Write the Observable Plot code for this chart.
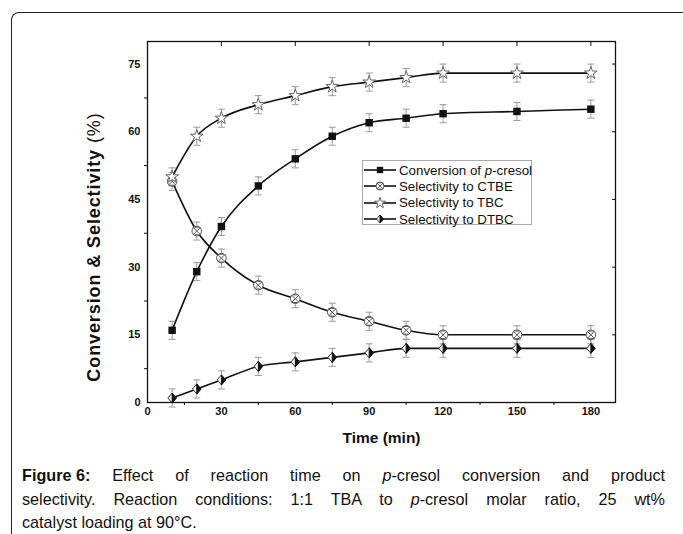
<!DOCTYPE html>
<html><head><meta charset="utf-8">
<script src="https://cdn.jsdelivr.net/npm/d3@7"></script>
<script src="https://cdn.jsdelivr.net/npm/@observablehq/plot@0.6"></script>
<style>
html,body{margin:0;padding:0;background:#fff;width:683px;height:534px;overflow:hidden;font-family:"Liberation Sans",Arial,sans-serif;}
#wrap{position:relative;width:683px;height:534px;}
#border{position:absolute;left:11px;top:12px;width:720px;height:600px;border-top:1.5px solid #222;border-left:1.5px solid #222;border-top-left-radius:8px;}
#chart{position:absolute;left:0;top:0;}
#ylab{position:absolute;left:94px;top:247px;transform:translate(-50%,-50%) rotate(-90deg);white-space:nowrap;font-size:18px;letter-spacing:0.9px;font-weight:bold;color:#111;}
#ylab span{font-weight:normal;}
#legend{position:absolute;left:362px;top:160px;width:170px;height:65px;border:1px solid #aaa;background:#fff;box-sizing:border-box;padding-top:1px;}
.lrow{display:flex;align-items:center;height:16.3px;font-size:13.3px;color:#111;white-space:nowrap;}
.lrow svg{margin-right:2px;flex:none;}
#caption{position:absolute;left:22px;top:464px;width:643px;font-size:16.2px;line-height:23.5px;color:#111;}
#caption .j{text-align:justify;text-align-last:justify;white-space:nowrap;}
#caption .fig{display:inline-block;font-weight:bold;}
</style></head>
<body><div id="wrap"><div id="border"></div><div id="chart"></div>
<div id="ylab">Conversion &amp; Selectivity <span>(%)</span></div>
<div id="legend"></div>
<div id="caption"><div class="j"><span class="fig">Figure 6:</span> Effect of reaction time on <i>p</i>-cresol conversion and product</div><div class="j">selectivity. Reaction conditions: 1:1 TBA to <i>p</i>-cresol molar ratio, 25 wt%</div><div>catalyst loading at 90°C.</div></div>
</div>
<script>
// ---- data ----
const time = [10, 20, 30, 45, 60, 75, 90, 105, 120, 150, 180];
const conversion = [16, 29, 39, 48, 54, 59, 62, 63, 64, 64.5, 65];
const ctbe = [49, 38, 32, 26, 23, 20, 18, 16, 15, 15, 15];
const tbc = [50, 59, 63, 66, 68, 70, 71, 72, 73, 73, 73];
const dtbc = [1, 3, 5, 8, 9, 10, 11, 12, 12, 12, 12];
const errConversion = [2, 2, 2, 2, 2, 2, 2, 2, 2, 2, 2];
const errCtbe = [2, 2, 2, 2, 2, 2, 2, 2, 2, 2, 2];
const errTbc = [2, 2, 2, 2, 2, 2, 2, 2, 2, 2, 2];
const errDtbc = [2, 2, 2, 2, 2, 2, 2, 2, 2, 2, 2];
const seriesNames = ["Conversion of p-cresol", "Selectivity to CTBE", "Selectivity to TBC", "Selectivity to DTBC"];
const xTicks = [0, 30, 60, 90, 120, 150, 180];
const xMinor = [15, 45, 75, 105, 135, 165];
const yTicks = [0, 15, 30, 45, 60, 75];
const yMinor = [7.5, 22.5, 37.5, 52.5, 67.5];

const seriesVals = [conversion, ctbe, tbc, dtbc];
const seriesErr = [errConversion, errCtbe, errTbc, errDtbc];
const rows = [];
seriesVals.forEach((vals, s) => vals.forEach((v, i) => rows.push({series: seriesNames[s], s, t: time[i], v, e: seriesErr[s][i]})));
const bySeries = s => rows.filter(d => d.s === s);

// ---- custom symbols ----
const rad = size => Math.sqrt(size / Math.PI);
const capSym = {draw(c, size){ const r = rad(size); c.moveTo(-r, 0); c.lineTo(r, 0); }};
const crossCircle = {draw(c, size){ const r = rad(size);
  c.moveTo(r, 0); c.arc(0, 0, r, 0, 2*Math.PI);
  const k = r*0.8; c.moveTo(-k,-k); c.lineTo(k,k); c.moveTo(k,-k); c.lineTo(-k,k);
  c.moveTo(-k*0.6,-k); c.lineTo(k*0.6,-k); c.moveTo(-k*0.6,k); c.lineTo(k*0.6,k); }};
const diamondSym = {draw(c, size){ const r = rad(size); const w = r*0.85;
  c.moveTo(0,-r); c.lineTo(w,0); c.lineTo(0,r); c.lineTo(-w,0); c.closePath(); }};
const halfDiamond = {draw(c, size){ const r = rad(size); const w = r*0.85;
  c.moveTo(0,-r); c.lineTo(w,0); c.lineTo(0,r); c.closePath(); }};

const axisStyle = {fontSize: 11, fontWeight: "bold", stroke: null};
const chart = Plot.plot({
  width: 683, height: 455,
  marginLeft: 147, marginRight: 68, marginTop: 41, marginBottom: 53,
  style: {fontFamily: "'Liberation Sans', Arial, sans-serif", color: "#111", background: "transparent"},
  x: {domain: [0, 190]},
  y: {domain: [0, 80]},
  marks: [
    // error bars
    Plot.ruleX(rows, {x: "t", y1: d => d.v - d.e, y2: d => d.v + d.e, stroke: "#9a9a9a", strokeWidth: 1}),
    Plot.dot(rows, {x: "t", y: d => d.v + d.e, symbol: capSym, r: 3.5, stroke: "#9a9a9a", strokeWidth: 1}),
    Plot.dot(rows, {x: "t", y: d => d.v - d.e, symbol: capSym, r: 3.5, stroke: "#9a9a9a", strokeWidth: 1}),
    // lines
    Plot.line(rows, {x: "t", y: "v", z: "series", curve: "monotone-x", stroke: "#111", strokeWidth: 1.6}),
    // markers
    Plot.dot(bySeries(0), {x: "t", y: "v", symbol: "square", r: 4.2, fill: "#111", stroke: "none"}),
    Plot.dot(bySeries(1), {x: "t", y: "v", symbol: crossCircle, r: 4.8, fill: "white", stroke: "#555", strokeWidth: 1}),
    Plot.dot(bySeries(2), {x: "t", y: "v", symbol: "star", r: 4, fill: "white", stroke: "#666", strokeWidth: 1}),
    Plot.dot(bySeries(3), {x: "t", y: "v", symbol: diamondSym, r: 5, fill: "white", stroke: "#333", strokeWidth: 1}),
    Plot.dot(bySeries(3), {x: "t", y: "v", symbol: halfDiamond, r: 5, fill: "#111", stroke: "#111", strokeWidth: 1}),
    // axes
    Plot.axisY({ticks: yTicks, tickSize: 5, tickPadding: 2, label: null, ...axisStyle, tickFormat: d => d}),
    Plot.axisY({ticks: yMinor, tickSize: 3, label: null, tickFormat: () => ""}),
    Plot.axisX({ticks: xTicks, tickSize: 4, tickPadding: 1, label: null, ...axisStyle, tickFormat: d => d}),
    Plot.axisX({ticks: xMinor, tickSize: 3, label: null, tickFormat: () => ""}),
    Plot.axisX({anchor: "top", ticks: xTicks, tickSize: -4, label: null, tickFormat: () => ""}),
    Plot.axisY({anchor: "right", ticks: yTicks, tickSize: -4, label: null, tickFormat: () => ""}),
    Plot.frame({stroke: "#111", strokeWidth: 1.3}),
    Plot.text(["Time (min)"], {frameAnchor: "bottom", dy: 40, fontSize: 15.5, fontWeight: "bold", text: d => d, fill: "#111"})
  ]
});
document.getElementById("chart").appendChild(chart);

// ---- legend ----
const legend = d3.select("#legend");
const legendSyms = [
  {sym: d3.symbolSquare, size: 40, fill: "#111", stroke: "none"},
  {sym: crossCircle, size: Math.PI*16, fill: "white", stroke: "#555"},
  {sym: d3.symbolStar, size: Math.PI*12, fill: "white", stroke: "#666"},
  {sym: diamondSym, size: Math.PI*16, fill: "white", stroke: "#333", half: true}
];
const legendLabels = ["Conversion of <i>p</i>-cresol", "Selectivity to CTBE", "Selectivity to TBC", "Selectivity to DTBC"];
legendSyms.forEach((ls, i) => {
  const row = legend.append("div").attr("class", "lrow");
  const svg = row.append("svg").attr("width", 34).attr("height", 14);
  svg.append("line").attr("x1", 1).attr("x2", 33).attr("y1", 7).attr("y2", 7).attr("stroke", "#111").attr("stroke-width", 1.6);
  svg.append("path").attr("transform", "translate(17,7)").attr("d", d3.symbol(ls.sym, ls.size)()).attr("fill", ls.fill).attr("stroke", ls.stroke);
  if (ls.half) svg.append("path").attr("transform", "translate(17,7)").attr("d", d3.symbol(halfDiamond, ls.size)()).attr("fill", "#111").attr("stroke", "#111");
  row.append("span").html(legendLabels[i]);
});
</script>
</body></html>
